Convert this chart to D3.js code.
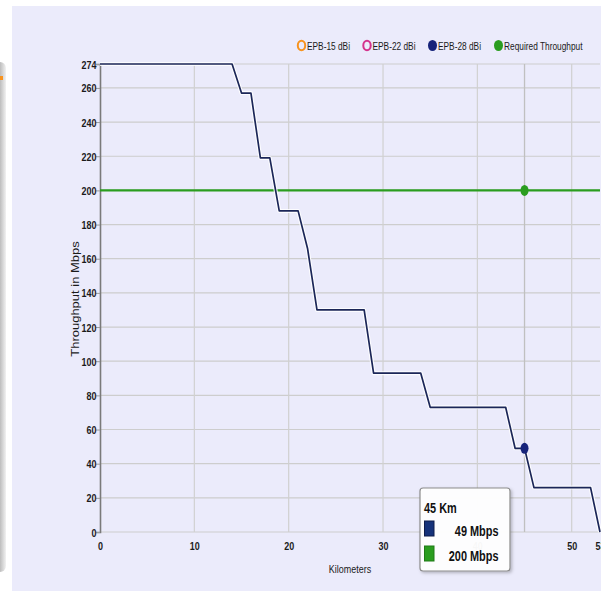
<!DOCTYPE html>
<html>
<head>
<meta charset="utf-8">
<script src="https://cdn.jsdelivr.net/npm/d3@7/dist/d3.min.js"></script>
<style>
  html, body { margin: 0; padding: 0; background: #ffffff; }
  svg { display: block; }
</style>
</head>
<body>
<svg id="chart" width="601" height="591"></svg>
<script>
// Link budget: throughput versus distance for the EPB-28 dBi antenna
const distanceKm = [0, 14, 15, 16, 17, 18, 19, 21, 22, 23, 28, 29, 34, 35, 43, 44, 45, 46, 52, 53];
const epb28Mbps  = [274, 274, 257, 257, 219, 219, 188, 188, 166, 130, 130, 93, 93, 73, 73, 49, 49, 26, 26, 0];
const requiredKm   = [0, 53];
const requiredMbps = [200, 200];

const yTickValues = [0, 20, 40, 60, 80, 100, 120, 140, 160, 180, 200, 220, 240, 260, 274];
const xTickValues = [0, 10, 20, 30, 40, 50, 53];

const legendNames  = ["EPB-15 dBi", "EPB-22 dBi", "EPB-28 dBi", "Required Throughput"];
const legendColors = ["#f7931e", "#d4328c", "#16237a", "#2a9d1f"];
const legendFilled = [false, false, true, true];

const hoverKm = 45;
const hoverLabel = "45 Km";
const hoverValues = [49, 200];
const hoverMarkColors = ["#16237a", "#2a9d1f"];
const hoverSwatchColors = ["#16327a", "#2a9d1f"];

const squeeze = 0.78; // narrow glyph width used for all labels

const svg = d3.select("#chart");
const defs = svg.append("defs");

// panel background
svg.append("rect").attr("x", 12).attr("y", 6).attr("width", 589).attr("height", 585).attr("fill", "#ebebfb");

// neighbouring panel edge on the far left
const edgeGrad = defs.append("linearGradient").attr("id", "edgeGrad");
edgeGrad.append("stop").attr("offset", "0%").attr("stop-color", "#e6e6e6");
edgeGrad.append("stop").attr("offset", "50%").attr("stop-color", "#bdbdbd");
edgeGrad.append("stop").attr("offset", "100%").attr("stop-color", "#f2f2f2");
svg.append("rect").attr("x", -6).attr("y", 62).attr("width", 12).attr("height", 510).attr("rx", 6)
  .attr("fill", "url(#edgeGrad)");
svg.append("rect").attr("x", 0).attr("y", 76).attr("width", 3).attr("height", 4).attr("fill", "#f7931e");

const x = d3.scaleLinear().domain([0, 53]).range([100, 600]);
const y = d3.scaleLinear().domain([0, 274]).range([532, 64]);

const g = svg.append("g");

// horizontal grid
g.selectAll("line.hgrid").data(yTickValues).join("line")
  .attr("class", "hgrid")
  .attr("x1", x(0)).attr("x2", x(53))
  .attr("y1", d => y(d)).attr("y2", d => y(d))
  .attr("stroke", "#cdcdcd").attr("stroke-width", 1.2);

// vertical grid
g.selectAll("line.vgrid").data(xTickValues.filter(d => d > 0 && d < 53)).join("line")
  .attr("class", "vgrid")
  .attr("x1", d => x(d)).attr("x2", d => x(d))
  .attr("y1", y(274)).attr("y2", y(0))
  .attr("stroke", "#d0d0d0").attr("stroke-width", 1.2);

// crosshair at the hovered distance
g.append("line")
  .attr("x1", x(hoverKm)).attr("x2", x(hoverKm))
  .attr("y1", y(274)).attr("y2", y(0))
  .attr("stroke", "#c0c0c0").attr("stroke-width", 1.3);

// y axis
const yAxis = d3.axisLeft(y).tickValues(yTickValues).tickSize(4).tickFormat(d3.format("d"));
const yAxisG = g.append("g").attr("transform", `translate(${x(0)},0)`).call(yAxis);
yAxisG.select(".domain").attr("stroke", "#7a7a7a").attr("stroke-width", 1.6);
yAxisG.selectAll(".tick line").attr("stroke", "#9a9a9a");
yAxisG.selectAll(".tick text").each(function() {
  d3.select(this).attr("x", null).attr("dy", null)
   .attr("text-anchor", "end")
   .attr("transform", `translate(-3.5,4) scale(${squeeze},1)`)
   .attr("font-family", "Liberation Sans, Arial, sans-serif")
   .attr("font-weight", "bold")
   .attr("font-size", 11.5)
   .attr("fill", "#1a1a1a");
});

// x axis labels
const xAxis = d3.axisBottom(x).tickValues(xTickValues).tickSize(0).tickFormat(d3.format("d"));
const xAxisG = g.append("g").attr("transform", `translate(0,${y(0)})`).call(xAxis);
xAxisG.select(".domain").remove();
xAxisG.selectAll(".tick text").each(function() {
  d3.select(this).attr("y", null).attr("dy", null)
    .attr("text-anchor", "middle")
    .attr("transform", `translate(0,18) scale(${squeeze},1)`)
    .attr("font-family", "Liberation Sans, Arial, sans-serif")
    .attr("font-weight", "bold")
    .attr("font-size", 11.5)
    .attr("fill", "#1a1a1a");
});

// axis titles
svg.append("text")
  .attr("transform", `translate(79,299) scale(${squeeze},1) rotate(-90)`)
  .attr("text-anchor", "middle")
  .attr("font-family", "Liberation Sans, Arial, sans-serif")
  .attr("font-size", 13)
  .attr("fill", "#1a1a1a")
  .text("Throughput in Mbps");
svg.append("text")
  .attr("transform", `translate(350,573) scale(${squeeze},1)`)
  .attr("text-anchor", "middle")
  .attr("font-family", "Liberation Sans, Arial, sans-serif")
  .attr("font-size", 11.5)
  .attr("fill", "#1a1a1a")
  .text("Kilometers");

// required throughput line
const reqLine = d3.line().x((d, i) => x(requiredKm[i])).y(d => y(d));
g.append("path").datum(requiredMbps)
  .attr("d", reqLine)
  .attr("fill", "none").attr("stroke", "#2a9d1f").attr("stroke-width", 2.2);

// EPB-28 throughput line with a soft halo
const tpLine = d3.line().x((d, i) => x(distanceKm[i])).y(d => y(d));
g.append("path").datum(epb28Mbps)
  .attr("d", tpLine)
  .attr("fill", "none").attr("stroke", "#ffffff").attr("stroke-opacity", 0.85)
  .attr("stroke-width", 4).attr("stroke-linejoin", "round");
g.append("path").datum(epb28Mbps)
  .attr("d", tpLine)
  .attr("fill", "none").attr("stroke", "#1b2658").attr("stroke-width", 1.7)
  .attr("stroke-linejoin", "round");

// hover markers
g.selectAll("ellipse.hover").data(hoverValues).join("ellipse")
  .attr("class", "hover")
  .attr("cx", x(hoverKm)).attr("cy", d => y(d))
  .attr("rx", 4).attr("ry", 5.5)
  .attr("fill", (d, i) => hoverMarkColors[i]);

// legend
const legend = svg.append("g");
const legendX = [301.5, 367, 432.5, 498.5];
legendNames.forEach((name, i) => {
  legend.append("ellipse")
    .attr("cx", legendX[i]).attr("cy", 45.5)
    .attr("rx", legendFilled[i] ? 4.5 : 3.7).attr("ry", legendFilled[i] ? 5.5 : 4.7)
    .attr("fill", legendFilled[i] ? legendColors[i] : "none")
    .attr("stroke", legendColors[i]).attr("stroke-width", legendFilled[i] ? 0 : 2);
  legend.append("text")
    .attr("transform", `translate(${legendX[i] + 5.5},49.5) scale(${squeeze * 0.97},1)`)
    .attr("font-family", "Liberation Sans, Arial, sans-serif")
    .attr("font-size", 11)
    .attr("fill", "#1a1a1a")
    .text(name);
});

// tooltip
const tip = svg.append("g");
const shadow = defs.append("filter").attr("id", "tipShadow")
  .attr("x", "-20%").attr("y", "-20%").attr("width", "140%").attr("height", "140%");
shadow.append("feDropShadow").attr("dx", 1.5).attr("dy", 1.5).attr("stdDeviation", 1.5)
  .attr("flood-color", "#000").attr("flood-opacity", 0.25);
tip.append("rect")
  .attr("x", 420).attr("y", 488).attr("width", 90).attr("height", 83).attr("rx", 3)
  .attr("fill", "#ffffff").attr("fill-opacity", 0.96)
  .attr("stroke", "#8c8c8c").attr("stroke-width", 1.2)
  .attr("filter", "url(#tipShadow)");
tip.append("text")
  .attr("transform", `translate(424,513) scale(${squeeze},1)`)
  .attr("font-family", "Liberation Sans, Arial, sans-serif")
  .attr("font-weight", "bold").attr("font-size", 14).attr("fill", "#111")
  .text(hoverLabel);
hoverValues.forEach((v, i) => {
  const rowY = 521 + i * 25;
  tip.append("rect")
    .attr("x", 424.5).attr("y", rowY).attr("width", 9.5).attr("height", 15)
    .attr("fill", hoverSwatchColors[i]).attr("stroke", i === 0 ? "#0e1c4a" : "#1f7a17").attr("stroke-width", 1);
  tip.append("text")
    .attr("transform", `translate(498.5,${rowY + 14.5}) scale(${squeeze},1)`)
    .attr("text-anchor", "end")
    .attr("font-family", "Liberation Sans, Arial, sans-serif")
    .attr("font-weight", "bold").attr("font-size", 14).attr("fill", "#111")
    .text(`${v} Mbps`);
});
</script>
</body>
</html>
